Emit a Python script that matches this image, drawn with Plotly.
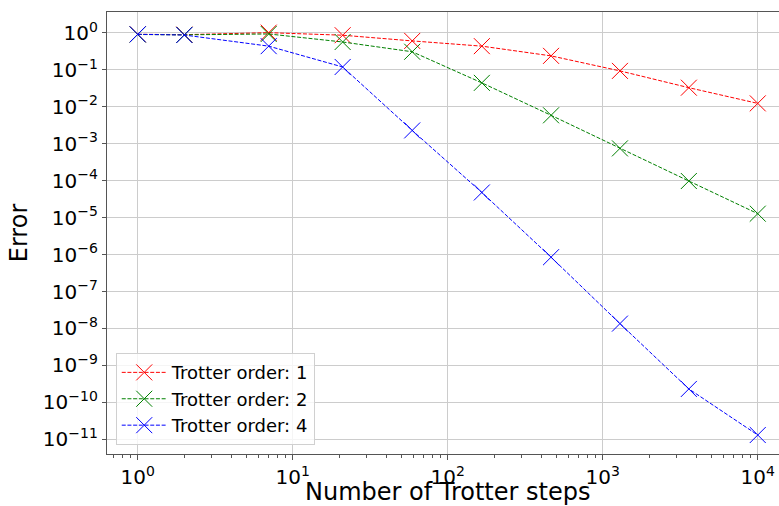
import plotly.graph_objects as go

steps = [1, 2, 7, 21, 59, 166, 464, 1291, 3593, 10000]
err_order1 = [0.92, 0.90, 1.02, 0.87, 0.61, 0.44, 0.24, 0.094, 0.033, 0.0124]
err_order2 = [0.91, 0.89, 0.94, 0.57, 0.31, 0.0446, 0.0059, 7.5e-4, 9.8e-5, 1.28e-5]
err_order4 = [0.92, 0.88, 0.44, 0.12, 2.3e-3, 4.8e-5, 8.5e-7, 1.35e-8, 2.3e-10, 1.3e-11]
series_names = ["Trotter order: 1", "Trotter order: 2", "Trotter order: 4"]
series_colors = ["#ff0000", "#008000", "#0000ff"]

x_tickvals = [1, 10, 100, 1000, 10000]
x_ticktext = ["10<sup>0</sup>", "10<sup>1</sup>", "10<sup>2</sup>", "10<sup>3</sup>", "10<sup>4</sup>"]
x_minor_vals = [m * 10.0 ** k for k in range(-1, 5) for m in range(2, 10)]
y_exps = list(range(0, -12, -1))
y_tickvals = [10.0 ** e for e in y_exps]
y_ticktext = ["10<sup>%s</sup>" % (str(e).replace("-", "\u2212")) for e in y_exps]

fig = go.Figure()
for i, (name, ys, col) in enumerate(zip(series_names, [err_order1, err_order2, err_order4], series_colors)):
    fig.add_trace(go.Scatter(
        x=steps, y=ys, name=name, mode="lines+markers",
        line=dict(color=col, width=1, dash="4px,1.7px"),
        marker=dict(symbol="x-thin", size=16, color=col, line=dict(color=col, width=1)),
        legendgroup="g%d" % i,
    ))

axis_font = dict(family="DejaVu Sans", size=20, color="#000000")
fig.update_layout(
    width=779, height=506,
    margin=dict(l=107, r=0, t=12, b=52),
    paper_bgcolor="white", plot_bgcolor="white",
    font=dict(family="DejaVu Sans", color="#000000"),
    showlegend=True,
    legend=dict(
        x=0.013, y=0.02, xanchor="left", yanchor="bottom",
        bgcolor="rgba(255,255,255,0.8)", bordercolor="#d0d0d0", borderwidth=1,
        font=dict(family="DejaVu Sans", size=18, color="#000000"),
        traceorder="grouped", tracegroupgap=0, itemwidth=45,
    ),
    xaxis=dict(
        type="log", range=[-0.198, 4.137], automargin=False,
        tickvals=x_tickvals, ticktext=x_ticktext, tickfont=axis_font,
        showgrid=True, gridcolor="#cccccc", gridwidth=1.3,
        showline=True, linecolor="#555555", linewidth=1.3, mirror=True,
        ticks="outside", ticklen=5, tickcolor="#555555",
        minor=dict(tickvals=x_minor_vals, ticks="outside", ticklen=3, tickcolor="#555555", showgrid=False),
        zeroline=False,
    ),
    yaxis=dict(
        type="log", range=[-11.40, 0.568], automargin=False,
        tickvals=y_tickvals, ticktext=y_ticktext, tickfont=axis_font,
        showgrid=True, gridcolor="#cccccc", gridwidth=1.3,
        showline=True, linecolor="#555555", linewidth=1.3,
        ticks="outside", ticklen=4, tickcolor="#555555",
        title=dict(text="Error", font=dict(family="DejaVu Sans", size=24), standoff=8),
        zeroline=False,
    ),
    annotations=[dict(
        text="Number of Trotter steps", xref="paper", yref="paper",
        x=0.5074, y=-0.087, xanchor="center", yanchor="middle", showarrow=False,
        font=dict(family="DejaVu Sans", size=24, color="#000000"),
    )],
)
fig.write_html("out.html")
